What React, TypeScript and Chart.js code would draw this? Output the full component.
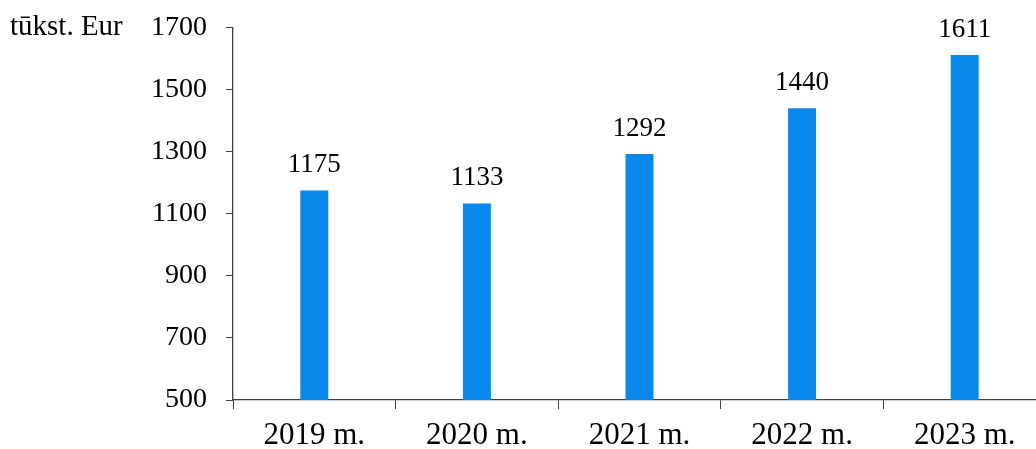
import React, { useEffect, useRef } from "react";
import { Chart, registerables } from "chart.js";

Chart.register(...registerables);

const categories = ["2019 m.", "2020 m.", "2021 m.", "2022 m.", "2023 m."];
const values = [1175, 1133, 1292, 1440, 1611];
const yTicks = [500, 700, 900, 1100, 1300, 1500, 1700];
const unitLabel = "tūkst. Eur";

const FONT = "'Liberation Serif', 'Times New Roman', serif";

const labelPlugin = {
  id: "labels",
  afterDatasetsDraw(chart: any) {
    const ctx = chart.ctx;
    const meta = chart.getDatasetMeta(0);
    ctx.save();
    ctx.fillStyle = "#000";
    ctx.font = `27px ${FONT}`;
    ctx.textAlign = "center";
    ctx.textBaseline = "alphabetic";
    meta.data.forEach((bar: any, i: number) => {
      ctx.fillText(String(values[i]), bar.x, bar.y - 18);
    });
    ctx.textAlign = "left";
    ctx.font = `29px ${FONT}`;
    ctx.fillText(unitLabel, 10, 35);
    ctx.restore();
  },
};

export default function App() {
  const ref = useRef<HTMLCanvasElement>(null);
  useEffect(() => {
    if (!ref.current) return;
    const chart = new Chart(ref.current, {
      type: "bar",
      data: {
        labels: categories,
        datasets: [
          {
            data: values,
            backgroundColor: "#0788ea",
            barPercentage: 0.172,
            categoryPercentage: 1,
          },
        ],
      },
      plugins: [labelPlugin],
      options: {
        animation: false,
        responsive: false,
        layout: { padding: { top: 0, right: 4, left: 0, bottom: 0 } },
        plugins: { legend: { display: false }, tooltip: { enabled: false } },
        scales: {
          x: {
            offset: true,
            grid: {
              offset: true,
              drawOnChartArea: false,
              drawTicks: true,
              tickLength: 9,
              color: "#404040",
            },
            border: { display: true, color: "#404040", width: 1.3 },
            ticks: {
              color: "#000",
              font: { family: FONT, size: 31 },
              padding: 8,
              maxRotation: 0,
            },
            afterFit: (s: any) => {
              s.height = 49;
            },
          },
          y: {
            min: 500,
            max: 1700,
            afterBuildTicks: (s: any) => {
              s.ticks = yTicks.map((v) => ({ value: v }));
            },
            grid: {
              drawOnChartArea: false,
              drawTicks: true,
              tickLength: 7,
              color: "#404040",
            },
            border: { display: true, color: "#404040", width: 1.3 },
            ticks: {
              color: "#000",
              font: { family: FONT, size: 28, lineHeight: 0.6 },
              padding: 19,
              callback: (v: any) => String(v),
            },
            afterFit: (s: any) => {
              s.width = 233;
            },
          },
        },
      },
    });
    return () => chart.destroy();
  }, []);
  return (
    <div
      style={{
        position: "fixed",
        left: 0,
        top: 0,
        width: 1036,
        height: 449,
        overflow: "hidden",
        background: "#fff",
      }}
    >
      <canvas ref={ref} width={1050} height={449} style={{ display: "block" }} />
    </div>
  );
}
